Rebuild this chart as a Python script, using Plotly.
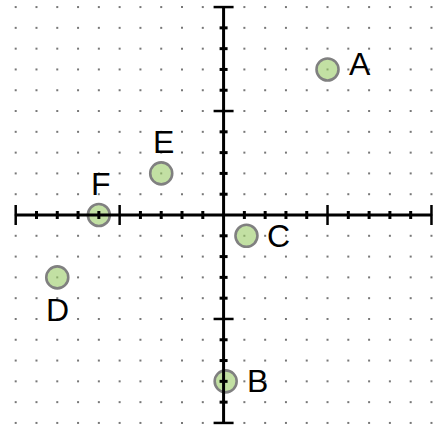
import numpy as np
import plotly.graph_objects as go

# points
names = ['A', 'B', 'C', 'D', 'E', 'F']
px_ = [5, 0.1, 1.1, -8, -3, -6]
py_ = [7, -8, -1, -3, 2, 0]
label_pos = ['right', 'right', 'right', 'below', 'above', 'above']

# grid / axis extent
lim = 10
grid_vals = np.arange(-lim, lim + 1)

fig = go.Figure()

gx, gy = np.meshgrid(grid_vals, grid_vals)
fig.add_trace(go.Scatter(
    x=gx.ravel(), y=gy.ravel(), mode='markers',
    marker=dict(size=2, color='#777777', symbol='square'),
    hoverinfo='skip'
))

# axes
shapes = [
    dict(type='line', x0=-lim, x1=lim, y0=0, y1=0, line=dict(color='black', width=3)),
    dict(type='line', x0=0, x1=0, y0=-lim, y1=lim, line=dict(color='black', width=3)),
]
for v in grid_vals:
    if v == 0:
        continue
    half = 10 if v % 5 == 0 else 4
    w = 2.5 if v % 5 == 0 else 3
    shapes.append(dict(type='line', xref='x', yref='y', ysizemode='pixel', yanchor=0,
                       x0=v, x1=v, y0=-half, y1=half, line=dict(color='black', width=w)))
    shapes.append(dict(type='line', xref='x', yref='y', xsizemode='pixel', xanchor=0,
                       x0=-half, x1=half, y0=v, y1=v, line=dict(color='black', width=w)))

fig.add_trace(go.Scatter(
    x=px_, y=py_, mode='markers',
    marker=dict(size=22, color='rgba(153,204,102,0.6)',
                line=dict(color='#808080', width=2.6)),
    hoverinfo='skip'
))

offsets = {'right': (19, 0, 'left', 'middle'),
           'below': (0, -13, 'center', 'top'),
           'above': (2, 11, 'center', 'bottom')}
annotations = []
for n, x, y, p in zip(names, px_, py_, label_pos):
    dx, dy, xa, ya = offsets[p]
    if n == 'A':
        dy = 5
    annotations.append(dict(x=x, y=y, text=n, showarrow=False, xanchor=xa, yanchor=ya,
                             xshift=dx, yshift=dy,
                             font=dict(family='Liberation Sans', size=32, color='black')))

fig.update_layout(
    width=435, height=430,
    margin=dict(l=0, r=0, t=0, b=0),
    plot_bgcolor='white', paper_bgcolor='white',
    showlegend=False,
    xaxis=dict(range=[-10.755, 10.17], visible=False),
    yaxis=dict(range=[-10.34, 10.34], visible=False),
    shapes=shapes,
    annotations=annotations,
)

fig.write_html("out.html", config={'displayModeBar': False},
               post_script="document.body.style.margin='0';")
